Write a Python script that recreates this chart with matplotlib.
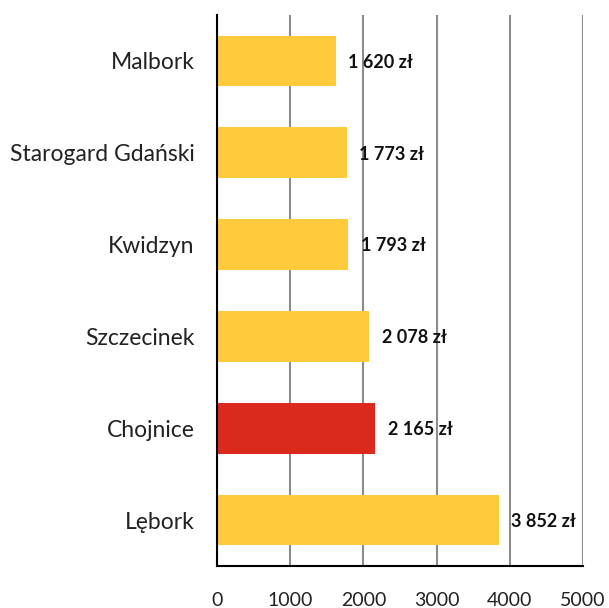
import matplotlib
matplotlib.use("Agg")
import matplotlib.pyplot as plt

cities = ["Malbork", "Starogard Gdański", "Kwidzyn", "Szczecinek", "Chojnice", "Lębork"]
values = [1620, 1773, 1793, 2078, 2165, 3852]
highlight = "Chojnice"
xticks = [0, 1000, 2000, 3000, 4000, 5000]

yellow = "#FFCB3D"
red = "#DC291E"

plt.rcParams["font.family"] = ["Lato", "DejaVu Sans"]

fig = plt.figure(figsize=(6.09, 6.08), dpi=100)
ax = fig.add_axes([217 / 609, 1 - 566 / 608, (583 - 217) / 609, (566 - 15) / 608])

pos = list(range(len(cities)))
colors = [red if c == highlight else yellow for c in cities]
ax.barh(pos, values, height=0.55, color=colors, zorder=3)

for p, v in zip(pos, values):
    txt = f"{v:,} zł".replace(",", " ")
    ax.annotate(txt, (v, p), xytext=(9, -1), textcoords="offset points",
                va="center", ha="left", fontsize=13, fontweight="bold", color="#111111", zorder=4)

ax.set_xlim(0, 5000)
ax.set_ylim(len(cities) - 0.5, -0.5)
ax.set_yticks(pos)
ax.set_yticklabels(cities, fontsize=16.5, color="#222222")
ax.set_xticks(xticks)
ax.set_xticklabels([str(t) for t in xticks], fontsize=14, color="#222222")
ax.tick_params(axis="y", length=0, pad=16)
ax.tick_params(axis="x", length=0, pad=19)

ax.grid(axis="x", color="#8c8c8c", linewidth=1.5, zorder=1)
for s in ["top", "right"]:
    ax.spines[s].set_visible(False)
ax.spines["left"].set_color("black")
ax.spines["left"].set_linewidth(1.5)
ax.spines["left"].set_zorder(5)
ax.spines["bottom"].set_color("black")
ax.spines["bottom"].set_linewidth(1.5)

fig.savefig("out.png", dpi=100)
